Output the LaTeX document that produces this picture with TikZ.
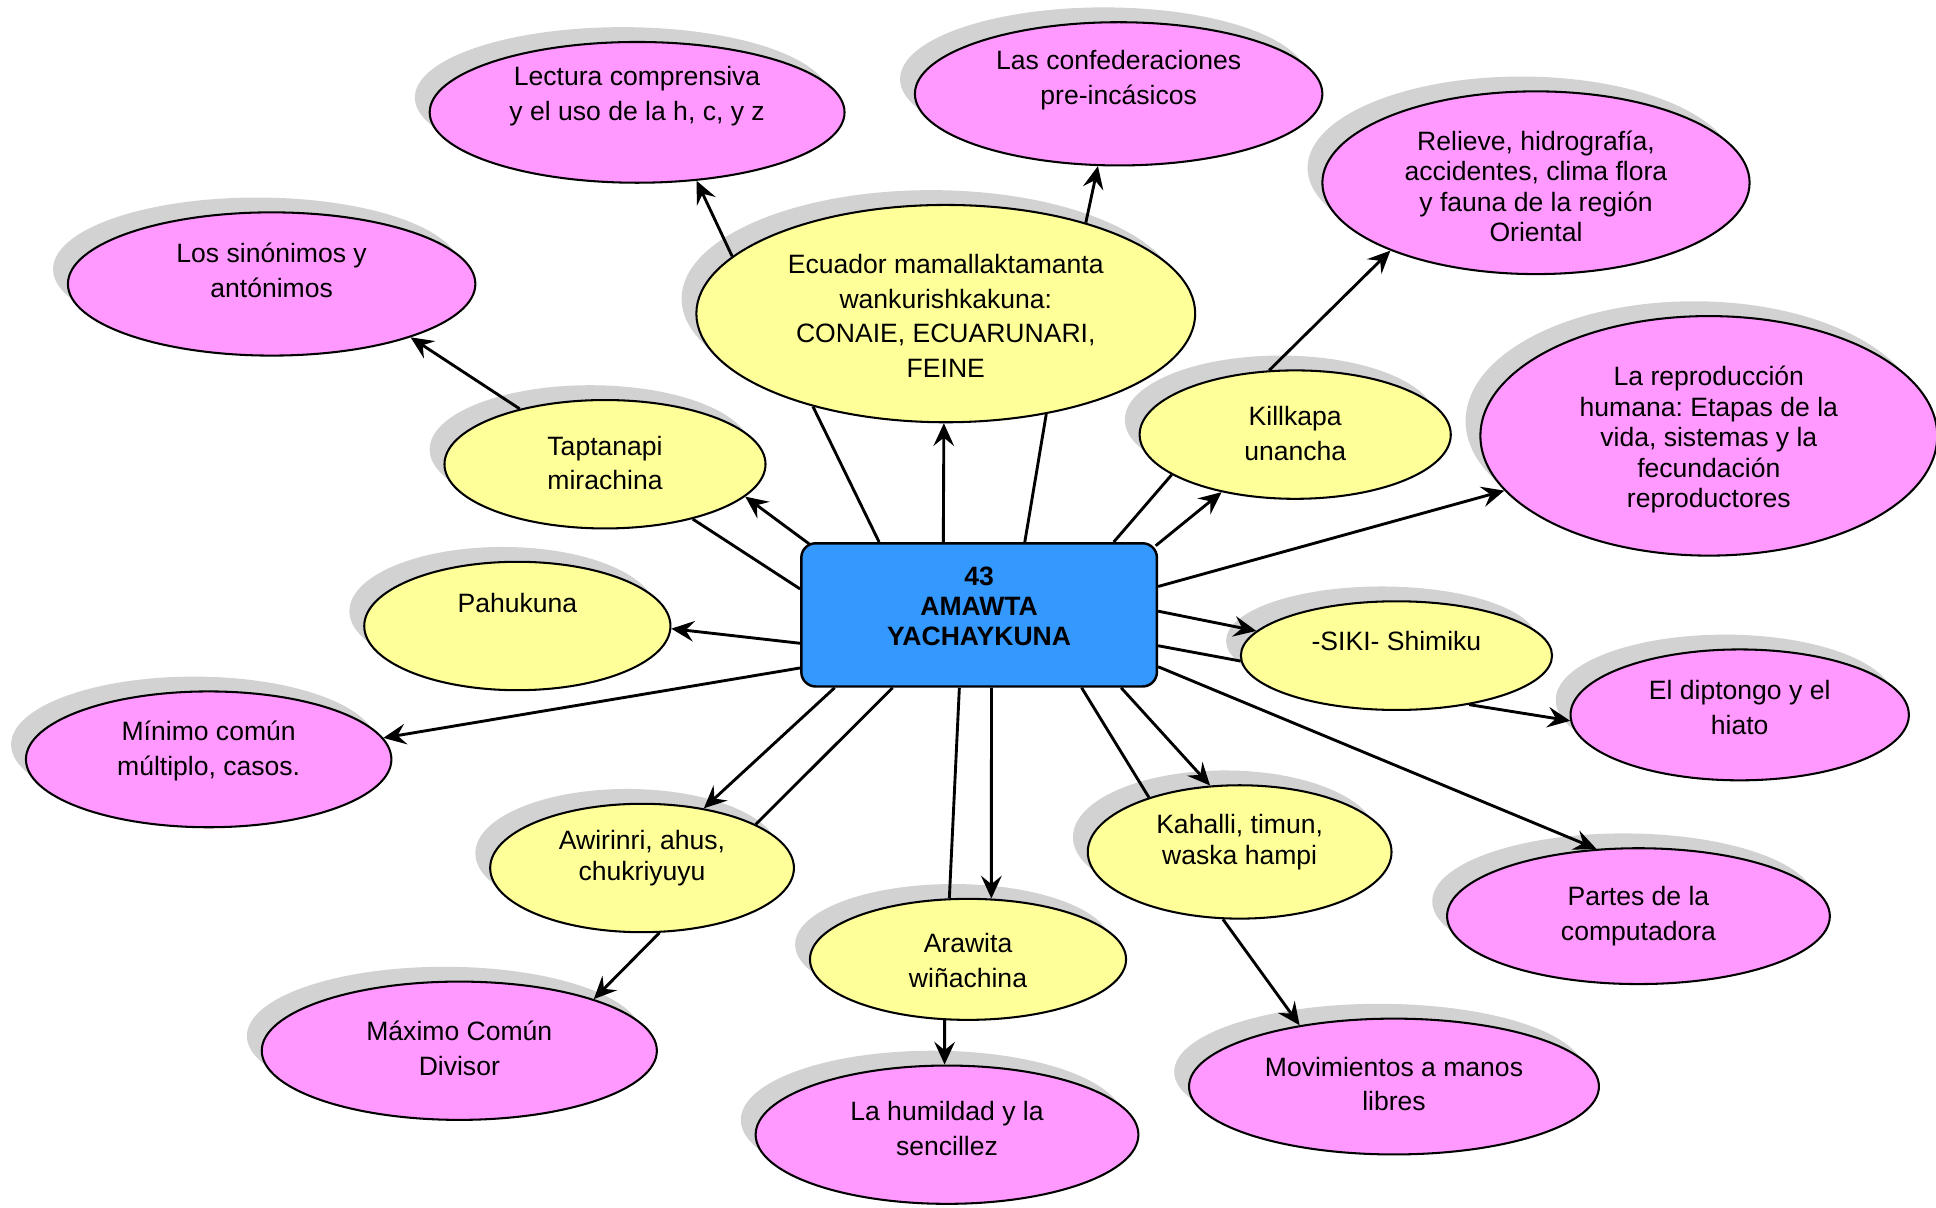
\documentclass[tikz,border=0pt]{standalone}
\usepackage{fontspec}
\setmainfont{Liberation Sans}
\usetikzlibrary{shapes.geometric,arrows.meta}
\definecolor{pinkc}{HTML}{FF99FF}
\definecolor{yelc}{HTML}{FFFF99}
\definecolor{bluec}{HTML}{3399FF}
\definecolor{shadc}{HTML}{D2D2D2}
\begin{document}
\frenchspacing
\begin{tikzpicture}[x=0.6pt,y=-0.6pt,
  bub/.style={ellipse,draw=black,line width=1pt,inner sep=0pt},
  shad/.style={fill=shadc},
  mainbox/.style={rectangle,rounded corners=7pt,draw=black,line width=1.2pt,fill=bluec,
     minimum width=172.8pt,minimum height=69.6pt,inner sep=0pt},
  txt/.style={align=center,inner sep=0pt,yshift=-1.2pt,font=\fontsize{12.9pt}{16.8pt}\selectfont},
  txtt/.style={align=center,inner sep=0pt,yshift=-1.2pt,font=\fontsize{12.9pt}{14.8pt}\selectfont},
  txtm/.style={align=center,inner sep=0pt,yshift=-1.2pt,font=\fontsize{12.9pt}{15.3pt}\selectfont},
  boxtxt/.style={align=center,inner sep=0pt,yshift=-1.2pt,font=\bfseries\fontsize{12.9pt}{14.7pt}\selectfont},
  link/.style={line width=1.4pt},
  arr/.style={link,-{Stealth[length=11pt,width=10pt,inset=4pt]}}
]
\fill[white] (0,0) rectangle (1568,978);
\useasboundingbox (0,0) rectangle (1568,978);
\def\bubbles{lec/516/91/168/57/pinkc, conf/906/76/165/58/pinkc, rel/1244/148/173/74/pinkc,
  sin/220/230/165/58/pinkc, eco/766/254/202/88/yelc, kil/1049/352/126/52/yelc,
  rep/1384/353/185/97/pinkc, tap/490/376/130/52/yelc, pah/419/507/124/52/yelc,
  siki/1131/531/126/44/yelc, dip/1409/579/137/53/pinkc, min/169/615/148/55/pinkc,
  awi/520/703/123/52/yelc, kah/1004/690/123/54/yelc, par/1327/742/155/55/pinkc,
  ara/784/777/128/49/yelc, max/372/851/160/56/pinkc, hum/767/919/155/56/pinkc,
  mov/1129/880/166/55/pinkc}
% shadows
\foreach \n/\x/\y/\rx/\ry/\c in \bubbles {
  \fill[shad] (\x-12,\y-12) ellipse [x radius=\rx, y radius=\ry];
}
% bubbles
\foreach \n/\x/\y/\rx/\ry/\c in \bubbles {
  \node[bub,fill=\c,minimum width=2*\rx*0.6pt,minimum height=2*\ry*0.6pt] (\n) at (\x,\y) {};
}
\node[mainbox] (box) at (793,498) {};
% texts
\node[boxtxt] (box-t) at (793,489) {43\\AMAWTA\\YACHAYKUNA};
\node[txt] (lec-t) at (516,76) {Lectura comprensiva\\y el uso de la h, c, y z};
\node[txt] (conf-t) at (906,63) {Las confederaciones\\pre-incásicos};
\node[txtt] (rel-t) at (1244,149) {Relieve, hidrografía,\\accidentes, clima flora\\y fauna de la región\\Oriental};
\node[txt] (sin-t) at (220,217) {Los sinónimos y\\antónimos};
\node[txt] (eco-t) at (766,254) {Ecuador mamallaktamanta\\wankurishkakuna:\\CONAIE, ECUARUNARI,\\FEINE};
\node[txt] (kil-t) at (1049,349) {Killkapa\\unancha};
\node[txtt] (rep-t) at (1384,354) {La reproducción\\humana: Etapas de la\\vida, sistemas y la\\fecundación\\reproductores};
\node[txt] (tap-t) at (490,373) {Taptanapi\\mirachina};
\node[txt] (pah-t) at (419,486) {Pahukuna};
\node[txt] (siki-t) at (1131,517) {-SIKI- Shimiku};
\node[txt] (dip-t) at (1409,571) {El diptongo y el\\hiato};
\node[txt] (min-t) at (169,606) {Mínimo común\\múltiplo, casos.};
\node[txtm] (awi-t) at (520,693) {Awirinri, ahus,\\chukriyuyu};
\node[txtm] (kah-t) at (1004,680) {Kahalli, timun,\\waska hampi};
\node[txt] (par-t) at (1327,740) {Partes de la\\computadora};
\node[txt] (ara-t) at (784,776) {Arawita\\wiñachina};
\node[txt] (max-t) at (372,847) {Máximo Común\\Divisor};
\node[txt] (hum-t) at (767,912) {La humildad y la\\sencillez};
\node[txt] (mov-t) at (1129,876) {Movimientos a manos\\libres};
% connectors
\draw[link] ([xshift=-48.6pt]box.north) -- (eco.215);
\draw[arr] ([xshift=-17.4pt]box.north) -- (eco.269);
\draw[link] ([xshift=22.2pt]box.north) -- (eco.315);
\draw[arr] (eco.165) -- (lec.311);
\draw[arr] (eco.33) -- (conf.254);
\draw[arr] (tap.147) -- (sin.339);
\draw[arr] ([xshift=4.8pt,yshift=-1.2pt]box.north west) -- (tap.347);
\draw[link] ([yshift=12.6pt]box.west) -- (tap.328);
\draw[arr] ([yshift=-13.8pt]box.west) -- (pah.359);
\draw[arr] ([yshift=-25.8pt]box.west) -- (min.7);
\draw[arr] ([xshift=-70.2pt]box.south) -- (awi.44);
\draw[link] ([xshift=-42pt]box.south) -- (awi.21);
\draw[arr] (awi.285) -- (max.21);
\draw[link] ([xshift=-9.6pt]box.south) -- (ara.107);
\draw[arr] ([xshift=6pt]box.south) -- (ara.69);
\draw[arr] (ara.249) -- (hum.92);
\draw[link] ([xshift=49.8pt]box.south) -- (kah.149);
\draw[arr] ([xshift=69pt]box.south) -- (kah.114);
\draw[arr] (kah.256) -- (mov.147);
\draw[arr] ([yshift=-25.2pt]box.east) -- (par.122);
\draw[link] ([yshift=-15pt]box.east) -- (siki.182);
\draw[arr] ([yshift=1.8pt]box.east) -- (siki.170);
\draw[arr] (siki.326) -- (dip.182);
\draw[arr] ([yshift=13.8pt]box.east) -- (rep.195);
\draw[arr] ([xshift=-1.2pt,yshift=-1.8pt]box.north east) -- (kil.218);
\draw[link] ([xshift=65.4pt]box.north) -- (kil.198);
\draw[arr] (kil.112) -- (rel.205);
\end{tikzpicture}
\end{document}
